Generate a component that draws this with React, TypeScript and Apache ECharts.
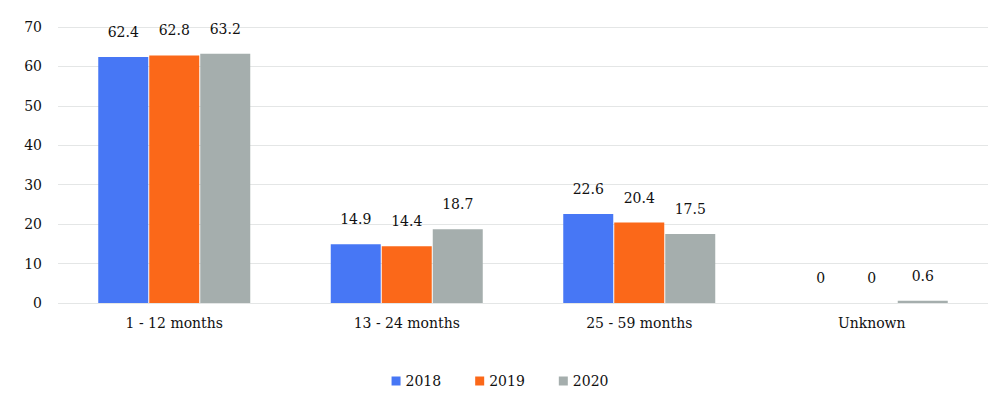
import React, { useEffect, useRef } from "react";
import * as echarts from "echarts";

const categories = ["1 - 12 months", "13 - 24 months", "25 - 59 months", "Unknown"];
const seriesNames = ["2018", "2019", "2020"];
const values2018 = [62.4, 14.9, 22.6, 0];
const values2019 = [62.8, 14.4, 20.4, 0];
const values2020 = [63.2, 18.7, 17.5, 0.6];
const colors = ["#4777f5", "#fb6819", "#a5aead"];

const FONT = "DejaVu Serif";

export default function App() {
  const ref = useRef<HTMLDivElement>(null);
  useEffect(() => {
    if (!ref.current) return;
    const chart = echarts.init(ref.current, undefined, { renderer: "svg" });
    const data = [values2018, values2019, values2020];
    chart.setOption({
      animation: false,
      backgroundColor: "#ffffff",
      textStyle: { fontFamily: FONT },
      grid: { left: 58, right: 12, top: 27, bottom: 91, containLabel: false },
      legend: {
        top: 369,
        left: "center",
        itemWidth: 9,
        itemHeight: 9,
        itemGap: 34,
        icon: "rect",
        textStyle: { fontFamily: FONT, fontSize: 14, color: "#111111" },
        data: seriesNames,
      },
      xAxis: {
        type: "category",
        data: categories,
        axisLine: { show: false },
        axisTick: { show: false },
        axisLabel: { fontFamily: FONT, fontSize: 14, color: "#111111", margin: 13 },
      },
      yAxis: {
        type: "value",
        min: 0,
        max: 70,
        interval: 10,
        axisLine: { show: false },
        axisTick: { show: false },
        axisLabel: { fontFamily: FONT, fontSize: 14, color: "#111111", margin: 16 },
        splitLine: { lineStyle: { color: "#e4e6e6", width: 1 } },
      },
      series: seriesNames.map((name, i) => ({
        name,
        type: "bar",
        data: data[i],
        barWidth: 50,
        barGap: "2%",
        itemStyle: { color: colors[i] },
        label: {
          show: true,
          position: "top",
          distance: 18,
          fontFamily: FONT,
          fontSize: 14,
          color: "#111111",
        },
      })),
    });
    return () => chart.dispose();
  }, []);
  return (
    <div
      ref={ref}
      style={{ position: "absolute", left: 0, top: 0, width: 1000, height: 394 }}
    />
  );
}
